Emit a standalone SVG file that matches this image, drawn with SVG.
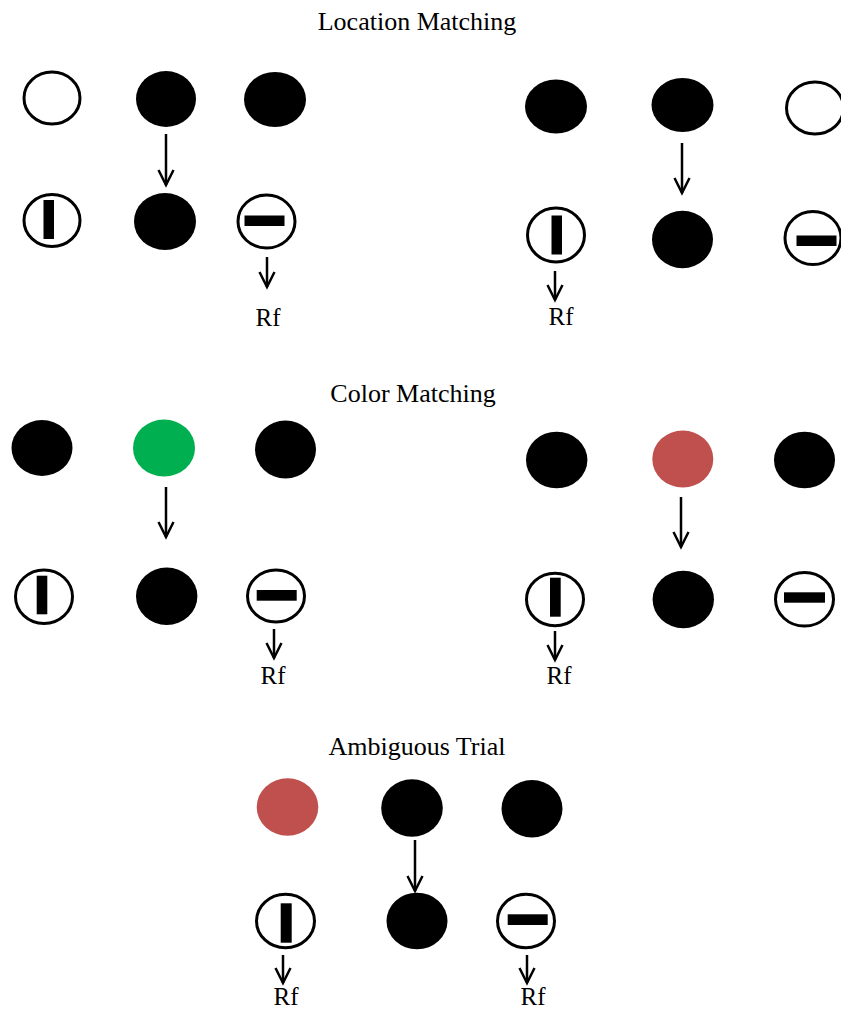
<svg xmlns="http://www.w3.org/2000/svg" width="841" height="1009" viewBox="0 0 841 1009">
<style>
.t{font-family:"Liberation Serif","Times New Roman",serif;font-size:26px;fill:#000;text-anchor:middle}
.rf{font-family:"Liberation Serif","Times New Roman",serif;font-size:25px;fill:#000;text-anchor:middle}
.f{fill:#000}
.o{fill:#fff;stroke:#000;stroke-width:3}
.bar{fill:#000}
.g{fill:#00B050}
.r{fill:#C0504D}
.c{stroke:#000;stroke-width:2.5;fill:none}
</style>
<defs>
<marker id="ah" markerUnits="userSpaceOnUse" markerWidth="20" markerHeight="20" refX="0" refY="0" orient="auto" overflow="visible">
<path d="M-15,-7.5 L0,0 L-15,7.5" fill="none" stroke="#000" stroke-width="2.5"/>
</marker>
</defs>
<rect width="841" height="1009" fill="#fff"/>
<text class="t" x="417" y="30">Location Matching</text>
<text class="t" x="413" y="402">Color Matching</text>
<text class="t" x="417" y="755">Ambiguous Trial</text>

<g id="lm-left">
<g id="lm-l-a"><ellipse class="o" cx="52" cy="98" rx="28" ry="26"/></g>
<g id="lm-l-b"><ellipse class="f" cx="166" cy="99" rx="30" ry="28"/></g>
<g id="lm-l-c"><ellipse class="f" cx="275" cy="99.5" rx="31" ry="27.5"/></g>
<g id="lm-l-d"><ellipse class="o" cx="52" cy="220.5" rx="28" ry="26"/><rect class="bar" x="43.5" y="200" width="10.5" height="39"/></g>
<g id="lm-l-e"><ellipse class="f" cx="165" cy="221.5" rx="31" ry="28.5"/></g>
<g id="lm-l-f"><ellipse class="o" cx="266.5" cy="221.5" rx="28.5" ry="26.5"/><rect class="bar" x="244.5" y="215.5" width="40" height="10.5"/></g>
<text class="rf" x="268" y="326">Rf</text>
</g>

<g id="lm-right">
<g id="lm-r-a"><ellipse class="f" cx="556" cy="106.5" rx="31" ry="27"/></g>
<g id="lm-r-b"><ellipse class="f" cx="682.5" cy="105" rx="31" ry="27"/></g>
<g id="lm-r-c"><ellipse class="o" cx="815" cy="108" rx="28.5" ry="26"/></g>
<g id="lm-r-d"><ellipse class="o" cx="556" cy="235" rx="28.5" ry="27"/><rect class="bar" x="551.5" y="215.5" width="10.5" height="39"/></g>
<g id="lm-r-e"><ellipse class="f" cx="682.5" cy="239.5" rx="30.5" ry="28.8"/></g>
<g id="lm-r-f"><ellipse class="o" cx="813" cy="238" rx="28" ry="26.5"/><rect class="bar" x="796.5" y="235.5" width="40" height="10.5"/></g>
<text class="rf" x="561" y="325">Rf</text>
</g>

<g id="cm-left">
<g id="cm-l-a"><ellipse class="f" cx="42" cy="448" rx="30.5" ry="28"/></g>
<g id="cm-l-b"><ellipse class="g" cx="164" cy="448" rx="31" ry="28.5"/></g>
<g id="cm-l-c"><ellipse class="f" cx="285.5" cy="449.5" rx="30.5" ry="29"/></g>
<g id="cm-l-d"><ellipse class="o" cx="44" cy="596.7" rx="28.5" ry="26.8"/><rect class="bar" x="36.7" y="575.7" width="10.6" height="38.6"/></g>
<g id="cm-l-e"><ellipse class="f" cx="166.7" cy="596.3" rx="30.7" ry="28.7"/></g>
<g id="cm-l-f"><ellipse class="o" cx="276" cy="596" rx="28.5" ry="26"/><rect class="bar" x="256.7" y="590" width="40" height="10.7"/></g>
<text class="rf" x="273" y="684">Rf</text>
</g>

<g id="cm-right">
<g id="cm-r-a"><ellipse class="f" cx="556.7" cy="460" rx="30.7" ry="28.3"/></g>
<g id="cm-r-b"><ellipse class="r" cx="682.8" cy="459" rx="30.5" ry="28.5"/></g>
<g id="cm-r-c"><ellipse class="f" cx="804.5" cy="460" rx="30.5" ry="28.3"/></g>
<g id="cm-r-d"><ellipse class="o" cx="555" cy="599.5" rx="28.5" ry="26.3"/><rect class="bar" x="550" y="577.7" width="10.7" height="39"/></g>
<g id="cm-r-e"><ellipse class="f" cx="683.3" cy="599.5" rx="30.7" ry="28.8"/></g>
<g id="cm-r-f"><ellipse class="o" cx="804.5" cy="599.3" rx="29" ry="26.8"/><rect class="bar" x="784" y="592.3" width="41" height="10.4"/></g>
<text class="rf" x="559" y="684">Rf</text>
</g>

<g id="amb">
<g id="amb-a"><ellipse class="r" cx="287.5" cy="807" rx="30.8" ry="28.8"/></g>
<g id="amb-b"><ellipse class="f" cx="412" cy="808" rx="30.8" ry="28.7"/></g>
<g id="amb-c"><ellipse class="f" cx="532" cy="808.7" rx="30.5" ry="28.7"/></g>
<g id="amb-d"><ellipse class="o" cx="285.5" cy="921" rx="29" ry="26.8"/><rect class="bar" x="280.7" y="903.3" width="11" height="39.4"/></g>
<g id="amb-e"><ellipse class="f" cx="417" cy="921" rx="30.5" ry="28.3"/></g>
<g id="amb-f"><ellipse class="o" cx="526" cy="921" rx="28.5" ry="26.8"/><rect class="bar" x="507.7" y="914.3" width="40" height="10.7"/></g>
<text class="rf" x="286" y="1005">Rf</text>
<text class="rf" x="533" y="1005">Rf</text>
</g>

<g id="connectors">
<line class="c" x1="166" y1="134" x2="166" y2="185" marker-end="url(#ah)"/>
<line class="c" x1="267" y1="257" x2="267" y2="287" marker-end="url(#ah)"/>
<line class="c" x1="682" y1="143" x2="682" y2="193" marker-end="url(#ah)"/>
<line class="c" x1="555" y1="271" x2="555" y2="300" marker-end="url(#ah)"/>
<line class="c" x1="166" y1="487" x2="166" y2="537" marker-end="url(#ah)"/>
<line class="c" x1="274" y1="629" x2="274" y2="658" marker-end="url(#ah)"/>
<line class="c" x1="681" y1="497" x2="681" y2="547" marker-end="url(#ah)"/>
<line class="c" x1="555" y1="631" x2="555" y2="660" marker-end="url(#ah)"/>
<line class="c" x1="415" y1="840" x2="415" y2="891" marker-end="url(#ah)"/>
<line class="c" x1="283" y1="955" x2="283" y2="983" marker-end="url(#ah)"/>
<line class="c" x1="527" y1="955" x2="527" y2="983" marker-end="url(#ah)"/>
</g>
</svg>
